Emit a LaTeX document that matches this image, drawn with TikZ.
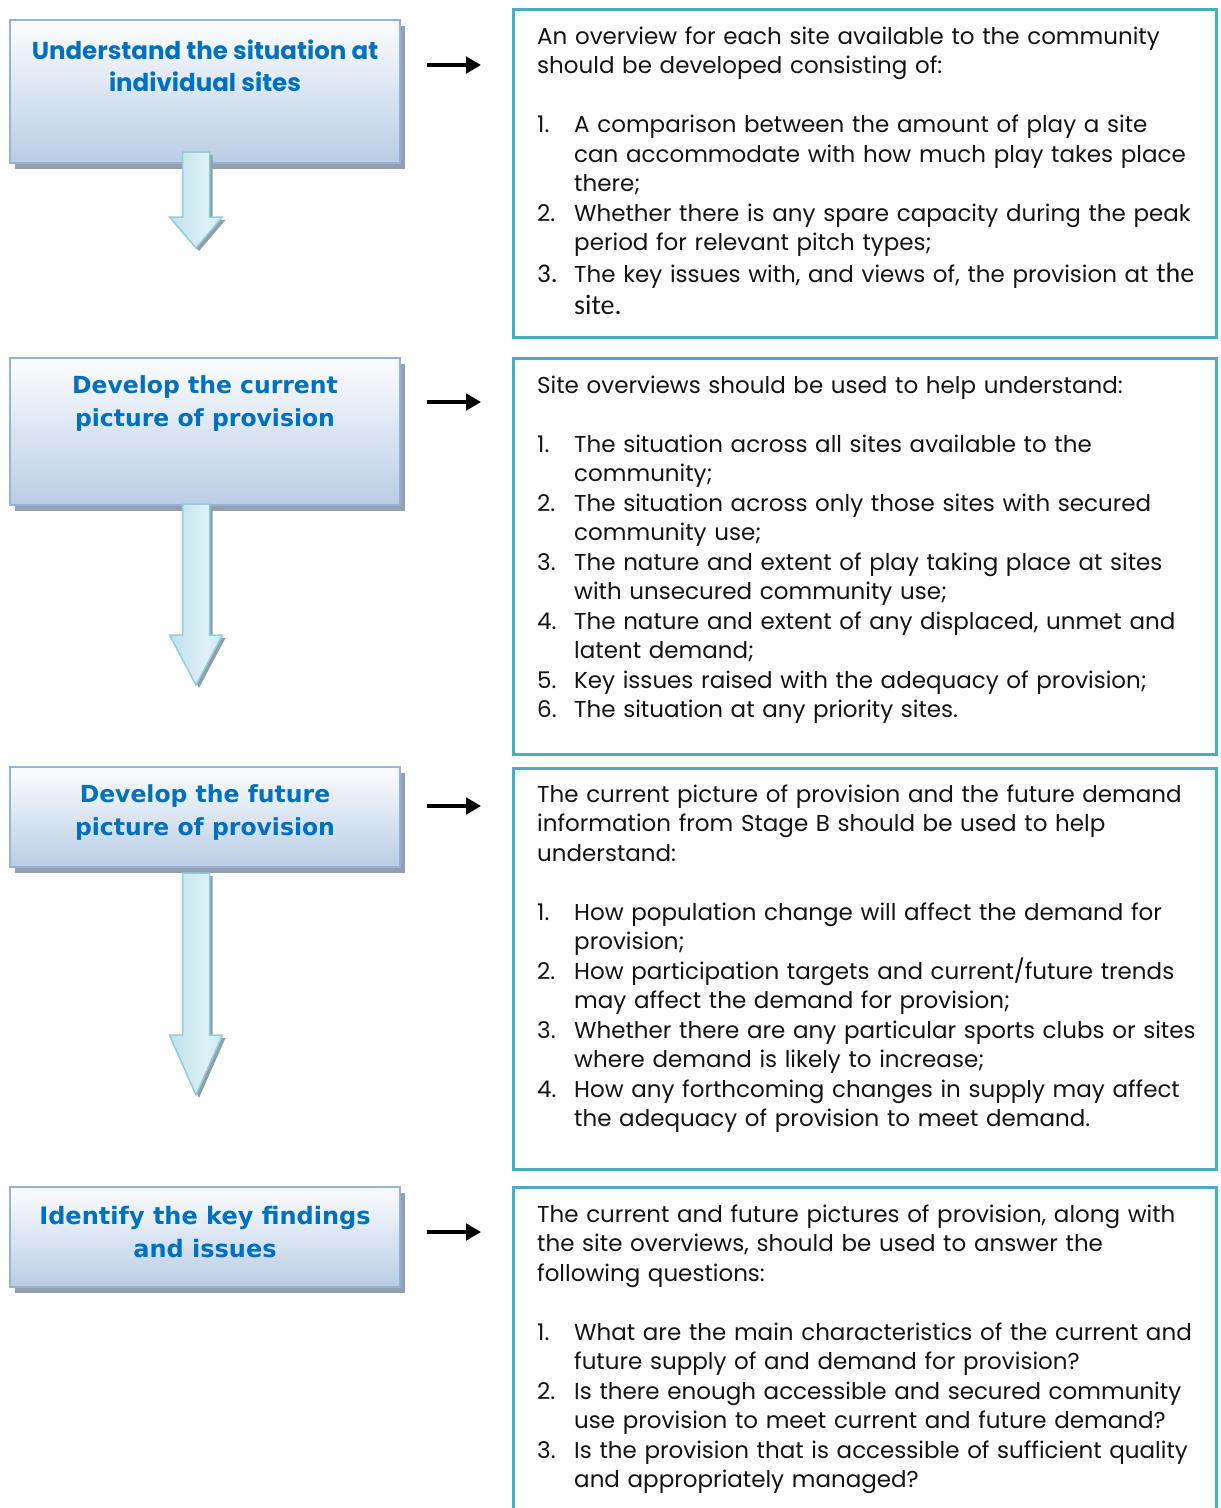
\documentclass[tikz,border=0pt]{standalone}
\usepackage{fontspec}
\setmainfont{Poppins}
\newfontfamily\vfont{DejaVu Sans}
\newfontfamily\gfont{Poppins}
\newfontfamily\carl{Carlito}
\usetikzlibrary{arrows.meta,shadows}
\definecolor{headblue}{RGB}{0,112,192}
\definecolor{boxline}{RGB}{149,179,215}
\definecolor{boxbot}{RGB}{185,205,228}
\definecolor{boxtop}{RGB}{248,250,253}
\definecolor{shadowgray}{RGB}{146,160,178}
\definecolor{tealline}{RGB}{75,172,198}
\definecolor{arrfill}{RGB}{170,215,228}
\definecolor{arrlight}{RGB}{222,240,245}
\definecolor{arrline}{RGB}{146,205,220}
\definecolor{arrshadow}{RGB}{140,160,168}
\definecolor{bodytext}{RGB}{20,20,20}
\pgfdeclareverticalshading{stageshade}{100bp}{color(0bp)=(boxbot); color(25bp)=(boxbot); color(72bp)=(boxtop); color(100bp)=(boxtop)}
\pgfdeclarehorizontalshading{arrowshade}{100bp}{color(0bp)=(arrfill); color(60bp)=(arrlight); color(100bp)=(arrfill)}
\newcommand{\itm}[1]{\makebox[37pt][l]{#1}}
\newcommand{\hng}{\hspace*{37pt}}
\newcommand{\dnarrow}[4]{%
  \fill[arrshadow] (#1-13.5+3,#2+3) -- (#1+13.5+3,#2+3) -- (#1+13.5+3,#3+3) -- (#1+26.5+3,#3+3) -- (#1+3,#4+3) -- (#1-26.5+3,#3+3) -- (#1-13.5+3,#3+3) -- cycle;
  \draw[arrline, line width=1.5, shading=arrowshade] (#1-13.5,#2) -- (#1+13.5,#2) -- (#1+13.5,#3) -- (#1+26.5,#3) -- (#1,#4) -- (#1-26.5,#3) -- (#1-13.5,#3) -- cycle;}
\tikzset{
  stagebox/.style={draw=boxline, line width=1.5, shading=stageshade, anchor=north west,
    minimum width=390, inner sep=0, outer sep=0,
    drop shadow={shadow xshift=5pt, shadow yshift=-6pt, fill=shadowgray, opacity=1}},
  infobox/.style={draw=tealline, line width=3, fill=white, anchor=north west,
    minimum width=703.5, inner sep=0, outer sep=0},
  headtxt/.style={text=headblue, align=center, inner sep=0},
  bodytxt/.style={anchor=base west, text width=678, align=left, inner sep=0, text=bodytext,
    font=\fontsize{23}{29.5}\selectfont},
  sidearrow/.style={-{Triangle[length=15,width=16.5]}, line width=3.4, black}
}
\begin{document}
\begin{tikzpicture}[x=1pt,y=-1pt]
\clip (0,0) rectangle (1221,1508);
\fill[white] (0,0) rectangle (1221,1508);

% left stage boxes
\node[stagebox, minimum height=143] (L1) at (10,20) {};
\node[stagebox, minimum height=147] (L2) at (10,358) {};
\node[stagebox, minimum height=100] (L3) at (10,767) {};
\node[stagebox, minimum height=100] (L4) at (10,1187) {};

\node[headtxt, font=\gfont\bfseries\fontsize{24.5}{31.5}\selectfont] (H1) at (205,66) {Understand the situation at\\individual sites};
\node[headtxt, font=\vfont\bfseries\fontsize{23.5}{33}\selectfont] (H2) at (205,404) {Develop the current\\picture of provision};
\node[headtxt, font=\vfont\bfseries\fontsize{23.5}{33}\selectfont] (H3) at (205,813) {Develop the future\\picture of provision};
\node[headtxt, font=\vfont\bfseries\fontsize{24}{32.5}\selectfont] (H4) at (205,1232) {Identify the key findings\\and issues};

% down arrows
\dnarrow{196}{152}{217}{248}
\dnarrow{196}{504}{635}{685}
\dnarrow{196}{873}{1035}{1095}

% right info boxes
\node[infobox, minimum height=327.5] (R1) at (513,9.5) {};
\node[infobox, minimum height=396] (R2) at (513,358.5) {};
\node[infobox, minimum height=401] (R3) at (513,768) {};
\node[infobox, minimum height=340] (R4) at (513,1187.5) {};

% side arrows
\coordinate (a1s) at (427,65);  \coordinate (a1e) at (481,65);
\coordinate (a2s) at (427,402); \coordinate (a2e) at (481,402);
\coordinate (a3s) at (427,806); \coordinate (a3e) at (481,806);
\coordinate (a4s) at (427,1232); \coordinate (a4e) at (481,1232);
\draw[sidearrow] (a1s) -- (a1e);
\draw[sidearrow] (a2s) -- (a2e);
\draw[sidearrow] (a3s) -- (a3e);
\draw[sidearrow] (a4s) -- (a4e);

% texts
\node[bodytxt] (T1) at (537,44) {An overview for each site available to the community\\
should be developed consisting of:\\[29.5pt]
\itm{1.}A comparison between the amount of play a site\\
\hng can accommodate with how much play takes place\\
\hng there;\\
\itm{2.}Whether there is any spare capacity during the peak\\
\hng period for relevant pitch types;\\[2.5pt]
\itm{\carl\fontsize{27}{30}\selectfont 3.}The key issues with, and views of, the provision at {\carl\fontsize{28}{30}\selectfont the}\\[2.5pt]
\hng{\carl\fontsize{28}{30}\selectfont site.}};

\node[bodytxt] (T2) at (537,393) {Site overviews should be used to help understand:\\[29.5pt]
\itm{1.}The situation across all sites available to the\\
\hng community;\\
\itm{2.}The situation across only those sites with secured\\
\hng community use;\\
\itm{3.}The nature and extent of play taking place at sites\\
\hng with unsecured community use;\\
\itm{4.}The nature and extent of any displaced, unmet and\\
\hng latent demand;\\
\itm{5.}Key issues raised with the adequacy of provision;\\
\itm{6.}The situation at any priority sites.};

\node[bodytxt] (T3) at (537,802) {The current picture of provision and the future demand\\
information from Stage B should be used to help\\
understand:\\[29.5pt]
\itm{1.}How population change will affect the demand for\\
\hng provision;\\
\itm{2.}How participation targets and current/future trends\\
\hng may affect the demand for provision;\\
\itm{3.}Whether there are any particular sports clubs or sites\\
\hng where demand is likely to increase;\\
\itm{4.}How any forthcoming changes in supply may affect\\
\hng the adequacy of provision to meet demand.};

\node[bodytxt] (T4) at (537,1222) {The current and future pictures of provision, along with\\
the site overviews, should be used to answer the\\
following questions:\\[29.5pt]
\itm{1.}What are the main characteristics of the current and\\
\hng future supply of and demand for provision?\\
\itm{2.}Is there enough accessible and secured community\\
\hng use provision to meet current and future demand?\\
\itm{3.}Is the provision that is accessible of sufficient quality\\
\hng and appropriately managed?};
\end{tikzpicture}
\end{document}
